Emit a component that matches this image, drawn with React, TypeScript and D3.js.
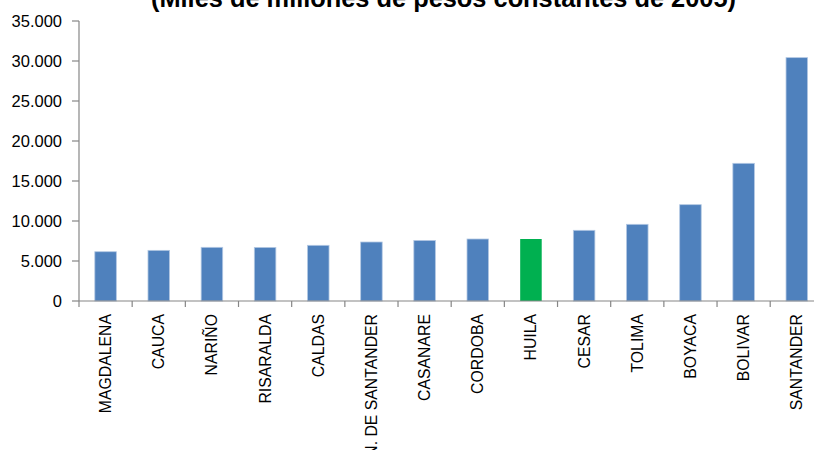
import React from "react";
import * as d3 from "d3";

const categories = [
  "MAGDALENA", "CAUCA", "NARIÑO", "RISARALDA", "CALDAS", "N. DE SANTANDER",
  "CASANARE", "CORDOBA", "HUILA", "CESAR", "TOLIMA", "BOYACA", "BOLIVAR", "SANTANDER",
];
const values = [6160, 6330, 6710, 6700, 6960, 7375, 7570, 7750, 7750, 8835, 9585, 12040, 17210, 30420];
const highlight = "HUILA";
const yTicks = [0, 5000, 10000, 15000, 20000, 25000, 30000, 35000];
const title = "(Miles de millones de pesos constantes de 2005)";

const W = 814;
const H = 450;
const left = 79;
const step = 53.17;
const top = 21;
const bottom = 301;

const locale = d3.formatLocale({ decimal: ",", thousands: ".", grouping: [3], currency: ["$", ""] });
const fmt = locale.format(",d");

export default function App() {
  const x = d3.scaleBand<string>().domain(categories).range([left, left + step * categories.length]).padding(0);
  const y = d3.scaleLinear().domain([0, 35000]).range([bottom, top]);
  const bw = x.bandwidth() * 0.405;
  const axisColor = "#868686";
  const font = "'Liberation Sans', Arial, sans-serif";

  return (
    <svg width={W} height={H} style={{ position: "absolute", left: 0, top: 0, background: "#fff" }}>
      <text
        x={443.5}
        y={7}
        textAnchor="middle"
        fontFamily={font}
        fontWeight="bold"
        fontSize={25}
        textLength={585}
        lengthAdjust="spacingAndGlyphs"
        fill="#000"
      >
        {title}
      </text>
      {categories.map((c, i) => (
        <rect
          key={c}
          x={(x(c) as number) + (x.bandwidth() - bw) / 2}
          y={y(values[i])}
          width={bw}
          height={y(0) - y(values[i])}
          fill={c === highlight ? "#00B050" : "#4F81BD"}
          stroke={c === highlight ? "none" : "#b3c8e3"}
          strokeWidth={0.8}
        />
      ))}
      {/* y axis */}
      <line x1={left} x2={left} y1={y(35000)} y2={y(0)} stroke={axisColor} strokeWidth={1.2} />
      {yTicks.map((t) => (
        <g key={t}>
          <line x1={left - 7} x2={left} y1={y(t)} y2={y(t)} stroke={axisColor} strokeWidth={1.2} />
          <text
            x={62}
            y={y(t)}
            dy="0.35em"
            textAnchor="end"
            fontFamily={font}
            fontSize={16.5}
            fill="#000"
          >
            {fmt(t)}
          </text>
        </g>
      ))}
      {/* x axis */}
      <line x1={left} x2={left + step * categories.length} y1={y(0)} y2={y(0)} stroke={axisColor} strokeWidth={1.2} />
      {categories.map((c, i) => (
        <line
          key={"t" + c}
          x1={(x(c) as number)}
          x2={(x(c) as number)}
          y1={y(0)}
          y2={y(0) + 6}
          stroke={axisColor}
          strokeWidth={1.2}
        />
      ))}
      {categories.map((c) => (
        <text
          key={"l" + c}
          transform={`translate(${(x(c) as number) + x.bandwidth() / 2},314) rotate(-90)`}
          dy="0.35em"
          textAnchor="end"
          fontFamily={font}
          fontSize={15.8}
          fill="#000"
        >
          {c}
        </text>
      ))}
    </svg>
  );
}
